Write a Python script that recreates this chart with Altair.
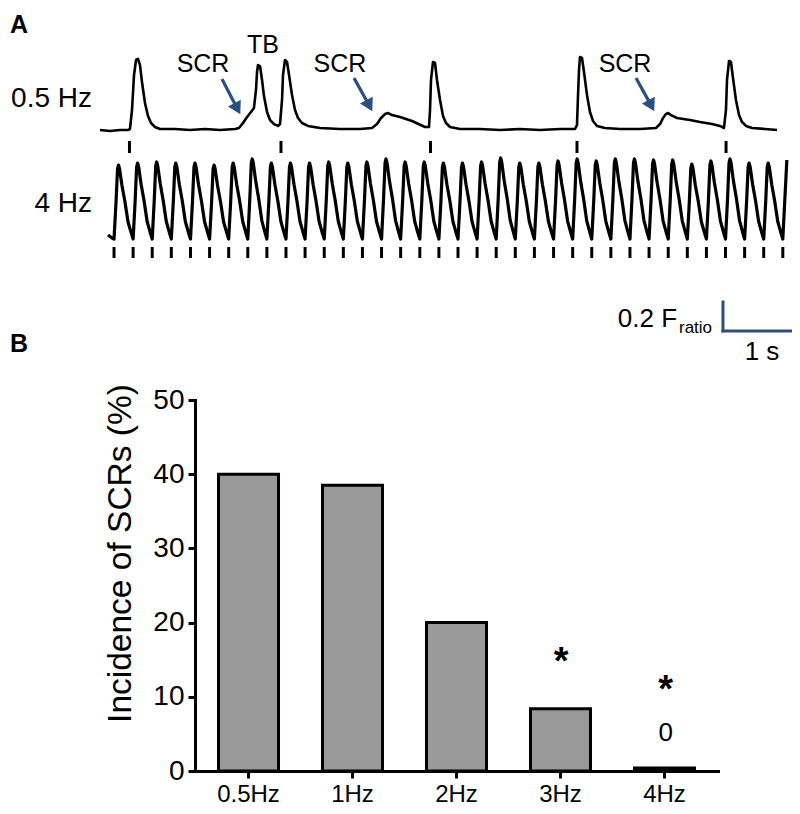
import altair as alt
import pandas as pd

FONT = "Liberation Sans, Arial, Helvetica, sans-serif"
BLUE = "#2b5080"
GRAY = "#999999"

# ---------------- Panel A : Ca2+ transients (time in s, F ratio) ----------------
T_05HZ = [0.000, 0.134, 0.268, 0.375, 0.402, 0.429, 0.456, 0.483, 0.509, 0.536,
          0.563, 0.603, 0.643, 0.684, 0.737, 0.804, 1.005, 1.206, 1.408, 1.609,
          1.810, 1.863, 1.917, 1.971, 2.024, 2.064, 2.091, 2.105, 2.118, 2.145,
          2.172, 2.198, 2.239, 2.279, 2.332, 2.386, 2.413, 2.440, 2.453, 2.480,
          2.507, 2.534, 2.574, 2.614, 2.654, 2.708, 2.788, 2.949, 3.217, 3.485,
          3.646, 3.713, 3.767, 3.820, 3.861, 3.914, 4.022, 4.182, 4.357, 4.410,
          4.424, 4.437, 4.464, 4.491, 4.517, 4.558, 4.598, 4.638, 4.692, 4.826,
          5.094, 5.362, 5.630, 5.898, 6.166, 6.367, 6.394, 6.408, 6.421, 6.434,
          6.461, 6.488, 6.528, 6.568, 6.609, 6.662, 6.770, 6.971, 7.239, 7.453,
          7.507, 7.547, 7.587, 7.614, 7.654, 7.734, 7.909, 8.043, 8.204, 8.311,
          8.364, 8.391, 8.405, 8.432, 8.458, 8.485, 8.525, 8.566, 8.606, 8.660,
          8.740, 8.914, 9.075]
F_05HZ = [1.000, 0.993, 1.000, 1.000, 1.007, 1.138, 1.379, 1.483, 1.490, 1.448,
          1.331, 1.186, 1.097, 1.048, 1.021, 1.007, 1.007, 1.000, 1.007, 1.000,
          1.007, 1.014, 1.048, 1.090, 1.124, 1.152, 1.276, 1.400, 1.448, 1.441,
          1.345, 1.234, 1.124, 1.069, 1.041, 1.028, 1.041, 1.207, 1.379, 1.483,
          1.469, 1.379, 1.241, 1.138, 1.083, 1.048, 1.028, 1.014, 1.007, 1.007,
          1.014, 1.041, 1.083, 1.110, 1.117, 1.103, 1.090, 1.062, 1.021, 1.021,
          1.138, 1.345, 1.469, 1.462, 1.345, 1.207, 1.097, 1.048, 1.021, 1.007,
          1.007, 1.000, 1.007, 1.000, 1.007, 1.007, 1.034, 1.241, 1.414, 1.503,
          1.497, 1.400, 1.241, 1.124, 1.062, 1.028, 1.014, 1.007, 1.007, 1.014,
          1.041, 1.083, 1.110, 1.117, 1.103, 1.083, 1.069, 1.055, 1.041, 1.028,
          1.014, 1.138, 1.345, 1.476, 1.469, 1.359, 1.207, 1.103, 1.055, 1.028,
          1.014, 1.007, 1.000]
STIM_05HZ = [0.395, 2.426, 4.430, 6.394, 8.392]

STIM_4HZ = [0.188, 0.444, 0.700, 0.956, 1.213, 1.469, 1.725, 1.981, 2.237, 2.493,
            2.749, 3.006, 3.262, 3.518, 3.774, 4.030, 4.287, 4.543, 4.799, 5.055,
            5.311, 5.567, 5.823, 6.080, 6.336, 6.592, 6.848, 7.104, 7.360, 7.617,
            7.873, 8.129, 8.385, 8.641, 8.897, 9.153]
PEAK_4HZ = [1.610, 1.624, 1.631, 1.624, 1.624, 1.610, 1.624, 1.652, 1.624, 1.624,
            1.624, 1.631, 1.624, 1.631, 1.652, 1.631, 1.631, 1.624, 1.624, 1.631,
            1.659, 1.624, 1.624, 1.638, 1.652, 1.638, 1.652, 1.652, 1.645, 1.645,
            1.617, 1.638, 1.652, 1.624, 1.624]
TROUGH_4HZ = 1.10
BEAT_DT = [0.000, 0.027, 0.047, 0.060, 0.074, 0.107, 0.147, 0.188, 0.228]
BEAT_FRAC = [0.00, 0.50, 0.95, 1.00, 0.95, 0.72, 0.50, 0.23, 0.09]
LEAD_4HZ_T = [0.107, 0.161]
LEAD_4HZ_F = [1.128, 1.107]
TAIL_4HZ_T = [9.153, 9.207]
TAIL_4HZ_F = [1.100, 1.645]

ARROW_T1 = [1.635, 3.405, 7.185]
ARROW_F1 = [1.352, 1.359, 1.359]
ARROW_T2 = [1.877, 3.646, 7.426]
ARROW_F2 = [1.110, 1.131, 1.131]

LABEL_TEXT = ["SCR", "TB", "SCR", "SCR"]
LABEL_T = [1.381, 2.185, 3.217, 7.038]
LABEL_F = [1.400, 1.531, 1.400, 1.400]

ROW_TEXT = ["0.5 Hz", "4 Hz"]
ROW_T = [-0.107, -0.107]
ROW_F = [1.159, 0.434]

SCALEBAR_T = [8.351, 9.351]     # 1 s
SCALEBAR_F = [-0.386, -0.186]   # 0.2 F ratio

# ---------------- Panel B : incidence of SCRs ----------------
FREQS = ["0.5Hz", "1Hz", "2Hz", "3Hz", "4Hz"]
INCIDENCE = [40.0, 38.5, 20.0, 8.4, 0.4]
STAR_FREQS = ["3Hz", "4Hz"]
STAR_Y = [13.1, 9.3]
ZERO_FREQ = ["4Hz"]
ZERO_Y = [4.05]

# ---------------- scales ----------------
XA = alt.Scale(domain=[0, 10], range=[-95, 651], nice=False, zero=False)
Y05 = alt.Scale(domain=[1.0, 1.5], range=[-270, -342.5], nice=False, zero=False)
Y4 = alt.Scale(domain=[1.1, 1.6], range=[-161, -233.5], nice=False, zero=False)
XB = alt.Scale(domain=FREQS, paddingInner=0.423, paddingOuter=0.226)
YB = alt.Scale(domain=[0, 50], nice=False, zero=True)


def xa(field="t"):
    return alt.X(f"{field}:Q", scale=XA, axis=None)


def ya(field="F", scale=Y05):
    return alt.Y(f"{field}:Q", scale=scale, axis=None)


layers = []

# 0.5 Hz trace
df05 = pd.DataFrame({"t": T_05HZ, "F": F_05HZ})
df05["i"] = range(len(df05))
layers.append(alt.Chart(df05).mark_line(color="black", strokeWidth=2.6, strokeJoin="round")
              .encode(x=xa(), y=ya(), order="i:Q"))

# 4 Hz trace built from beat onsets, peaks and the beat shape
t4, f4 = list(LEAD_4HZ_T), list(LEAD_4HZ_F)
for k, pk in enumerate(PEAK_4HZ):
    for dt, fr in zip(BEAT_DT, BEAT_FRAC):
        t4.append(STIM_4HZ[k] + dt)
        f4.append(TROUGH_4HZ + fr * (pk - TROUGH_4HZ))
t4 += TAIL_4HZ_T
f4 += TAIL_4HZ_F
df4 = pd.DataFrame({"t": t4, "F": f4})
df4["i"] = range(len(df4))
layers.append(alt.Chart(df4).mark_line(color="black", strokeWidth=3.2, strokeJoin="round")
              .encode(x=xa(), y=ya(scale=Y4), order="i:Q"))

# stimulus markers
layers.append(alt.Chart(pd.DataFrame({"t": STIM_05HZ})).mark_rule(color="black", strokeWidth=3)
              .encode(x=xa(), y=alt.value(-259), y2=alt.value(-247)))
layers.append(alt.Chart(pd.DataFrame({"t": STIM_4HZ})).mark_rule(color="black", strokeWidth=3)
              .encode(x=xa(), y=alt.value(-153), y2=alt.value(-142)))

# arrows
dfa = pd.DataFrame({"t1": ARROW_T1, "F1": ARROW_F1, "t2": ARROW_T2, "F2": ARROW_F2})
dfa["th"] = dfa["t2"] - 0.036
dfa["Fh"] = dfa["F2"] + 0.037
layers.append(alt.Chart(dfa).mark_rule(color=BLUE, strokeWidth=3.2)
              .encode(x=xa("t1"), x2="th:Q", y=ya("F1"), y2="Fh:Q"))
layers.append(alt.Chart(dfa).mark_point(shape="triangle-up", filled=True, size=210, angle=152,
                                        color=BLUE, opacity=1)
              .encode(x=xa("th"), y=ya("Fh")))

# labels
dfl = pd.DataFrame({"t": LABEL_T, "F": LABEL_F, "s": LABEL_TEXT})
layers.append(alt.Chart(dfl).mark_text(font=FONT, fontSize=25, color="black", align="center",
                                       baseline="alphabetic")
              .encode(x=xa(), y=ya(), text="s:N"))
dfr = pd.DataFrame({"t": ROW_T, "F": ROW_F, "s": ROW_TEXT})
layers.append(alt.Chart(dfr).mark_text(font=FONT, fontSize=28, color="black", align="right",
                                       baseline="alphabetic")
              .encode(x=xa(), y=ya(), text="s:N"))

# scale bar
dfs = pd.DataFrame({"t": [SCALEBAR_T[0], SCALEBAR_T[0]], "t2": [SCALEBAR_T[0], SCALEBAR_T[1]],
                    "F": [SCALEBAR_F[0], SCALEBAR_F[0]], "F2": [SCALEBAR_F[1], SCALEBAR_F[0]]})
layers.append(alt.Chart(dfs).mark_rule(color=BLUE, strokeWidth=3, strokeCap="square")
              .encode(x=xa(), x2="t2:Q", y=ya(), y2="F2:Q"))
sb_text = pd.DataFrame({"t": [7.735], "F": [-0.359], "s": ["0.2 F"]})
layers.append(alt.Chart(sb_text).mark_text(font=FONT, fontSize=26, align="right", baseline="alphabetic")
              .encode(x=xa(), y=ya(), text="s:N"))
sb_sub = pd.DataFrame({"t": [7.761], "F": [-0.400], "s": ["ratio"]})
layers.append(alt.Chart(sb_sub).mark_text(font=FONT, fontSize=17, align="left", baseline="alphabetic")
              .encode(x=xa(), y=ya(), text="s:N"))
sb_time = pd.DataFrame({"t": [8.874], "F": [-0.586], "s": ["1 s"]})
layers.append(alt.Chart(sb_time).mark_text(font=FONT, fontSize=26, align="center", baseline="alphabetic")
              .encode(x=xa(), y=ya(), text="s:N"))

# panel letters
one = pd.DataFrame({"a": [0]})
layers.append(alt.Chart(one).mark_text(text="A", font=FONT, fontSize=25, fontWeight="bold",
                                       align="left", baseline="top")
              .encode(x=alt.value(-185), y=alt.value(-387)))
layers.append(alt.Chart(one).mark_text(text="B", font=FONT, fontSize=25, fontWeight="bold",
                                       align="left", baseline="alphabetic")
              .encode(x=alt.value(-185), y=alt.value(-48)))

# ---------------- Panel B ----------------
dfb = pd.DataFrame({"freq": FREQS, "v": INCIDENCE})
bars = alt.Chart(dfb).mark_bar(color=GRAY, stroke="black", strokeWidth=3).encode(
    x=alt.X("freq:N", scale=XB, sort=FREQS,
            axis=alt.Axis(title=None, labelAngle=0, tickSize=7, tickWidth=3, tickColor="black",
                          domainWidth=3, domainColor="black", domainCap="square",
                          labelFont=FONT, labelFontSize=24, labelColor="black", labelPadding=4,
                          grid=False)),
    y=alt.Y("v:Q", scale=YB,
            axis=alt.Axis(values=[0, 10, 20, 30, 40, 50], tickSize=7, tickWidth=3, tickColor="black",
                          domainWidth=3, domainColor="black", domainCap="square",
                          labelFont=FONT, labelFontSize=28, labelColor="black", labelPadding=4,
                          grid=False, title="Incidence of SCRs (%)", titleFont=FONT,
                          titleFontSize=33.5, titleFontWeight="normal", titleColor="black",
                          titleAngle=270, titleX=-75, titleY=153, titleAlign="center",
                          titleBaseline="middle")),
)
layers.append(bars)

stars = alt.Chart(pd.DataFrame({"freq": STAR_FREQS, "y": STAR_Y})).mark_text(
    text="*", font=FONT, fontSize=38, fontWeight="bold", baseline="alphabetic").encode(
    x=alt.X("freq:N", scale=XB, sort=FREQS, axis=None),
    y=alt.Y("y:Q", scale=YB, axis=None))
layers.append(stars)
zero = alt.Chart(pd.DataFrame({"freq": ZERO_FREQ, "y": ZERO_Y})).mark_text(
    text="0", font=FONT, fontSize=26, baseline="alphabetic").encode(
    x=alt.X("freq:N", scale=XB, sort=FREQS, axis=None),
    y=alt.Y("y:Q", scale=YB, axis=None))
layers.append(zero)

chart = (alt.layer(*layers)
         .resolve_scale(x="independent", y="independent")
         .properties(width=523, height=371,
                     padding={"left": 187, "top": 392, "right": 74, "bottom": 35},
                     autosize=alt.AutoSizeParams(type="none"))
         .configure_view(stroke=None))

chart.save("out.html", embed_options={"renderer": "svg", "actions": False})
